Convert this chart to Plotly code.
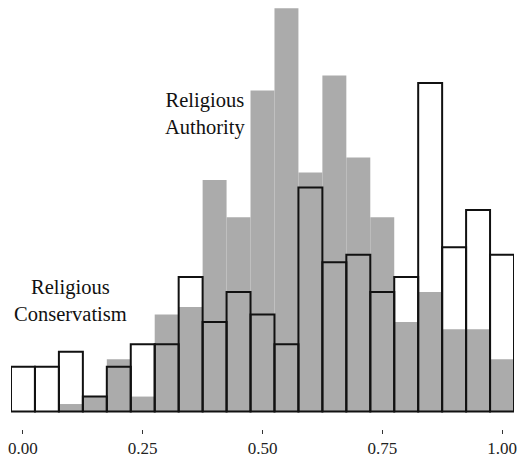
import plotly.graph_objects as go

bin_centers = [0.00, 0.05, 0.10, 0.15, 0.20, 0.25, 0.30, 0.35, 0.40, 0.45, 0.50,
               0.55, 0.60, 0.65, 0.70, 0.75, 0.80, 0.85, 0.90, 0.95, 1.00]
authority = [0, 0, 1, 2, 7, 2, 13, 14, 31, 26, 43, 54, 32, 45, 34, 26, 12, 16, 11, 11, 7]
conservatism = [6, 6, 8, 2, 6, 9, 9, 18, 12, 16, 13, 9, 30, 20, 21, 16, 18, 44, 22, 27, 21]
tick_vals = [0.0, 0.25, 0.5, 0.75, 1.0]
tick_text = ["0.00", "0.25", "0.50", "0.75", "1.00"]

FONT = "Liberation Serif"

fig = go.Figure()
fig.add_trace(go.Bar(x=bin_centers, y=authority, width=0.05,
                     marker=dict(color="#ABABAB", line=dict(width=0)),
                     name="Religious Authority", showlegend=False))
fig.add_trace(go.Bar(x=bin_centers, y=conservatism, width=0.05,
                     marker=dict(color="rgba(0,0,0,0)", line=dict(color="#111111", width=2)),
                     name="Religious Conservatism", showlegend=False))

fig.add_annotation(x=0.38, y=39.85, text="Religious<br>Authority", showarrow=False,
                   xanchor="center", yanchor="middle",
                   font=dict(family=FONT, size=20.5, color="#111111"))
fig.add_annotation(x=0.10, y=14.8, text="Religious<br>Conservatism", showarrow=False,
                   xanchor="center", yanchor="middle",
                   font=dict(family=FONT, size=20.5, color="#111111"))

fig.update_layout(
    width=518, height=459,
    margin=dict(l=11, r=4, t=5, b=30),
    barmode="overlay",
    plot_bgcolor="white", paper_bgcolor="white",
    font=dict(family=FONT, size=17, color="#222222"),
    xaxis=dict(range=[-0.025, 1.025], tickvals=tick_vals, ticktext=tick_text,
               ticks="outside", ticklen=4, tickwidth=1, tickcolor="#333333",
               showline=False, showgrid=False, zeroline=False, automargin=False,
               tickfont=dict(family=FONT, size=17, color="#222222")),
    yaxis=dict(range=[-2.344, 54.44], visible=False, showgrid=False, zeroline=False,
               automargin=False),
)

fig.write_html("out.html", config={"displayModeBar": False},
               post_script="document.body.style.margin='0';document.body.style.overflow='hidden';")
